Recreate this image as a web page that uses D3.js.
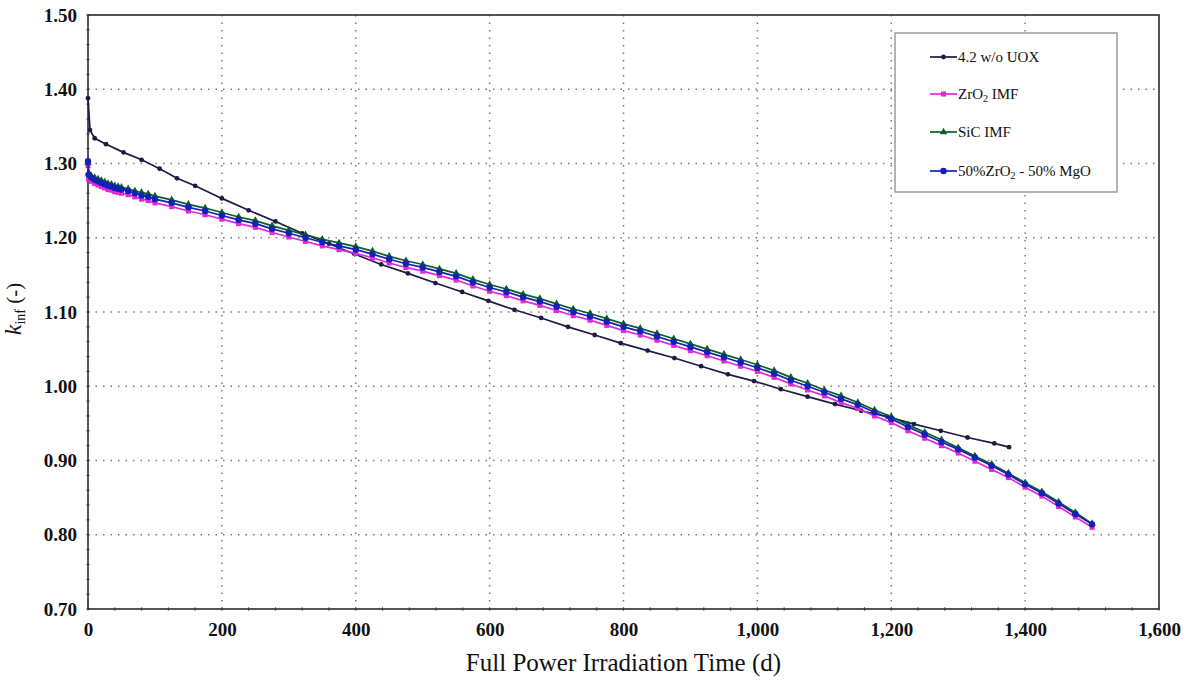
<!DOCTYPE html>
<html>
<head>
<meta charset="utf-8">
<script src="https://cdn.jsdelivr.net/npm/d3@7"></script>
<style>
  body { margin: 0; background: #fff; }
  text { font-family: "Liberation Serif", "Times New Roman", Times, serif; fill: #111; }
</style>
</head>
<body>
<script>
var svgW = 1191;
var svgH = 680;
var margin = { top: 15, right: 32, bottom: 71, left: 88 };
var chartWidth = svgW - margin.left - margin.right;
var chartHeight = svgH - margin.top - margin.bottom;

// 4.2 w/o UOX
var uoxDays = [0, 3, 10, 27, 53, 80, 107, 133, 160, 200, 240, 280, 320, 360,
  398, 438, 478, 519, 559, 598, 637, 677, 717, 757, 796, 836, 876, 916, 956, 995,
  1035, 1075, 1116, 1155, 1194, 1234, 1274, 1314, 1354, 1376];
var uoxK = [1.388, 1.345, 1.334, 1.326, 1.315, 1.305, 1.293, 1.280, 1.270, 1.253, 1.237, 1.222, 1.206, 1.192,
  1.178, 1.164, 1.152, 1.139, 1.127, 1.115, 1.103, 1.092, 1.080, 1.069, 1.058, 1.048, 1.038, 1.027, 1.016, 1.007,
  0.996, 0.986, 0.976, 0.967, 0.959, 0.949, 0.940, 0.931, 0.923, 0.918];

// IMF burnup steps
var imfDays = [0, 1, 5, 10, 15, 20, 25, 30, 35, 40, 45, 50, 60, 70, 80, 90, 100,
  125, 150, 175, 200, 225, 250, 275, 300, 325, 350, 375, 400, 425, 450, 475, 500,
  525, 550, 575, 600, 625, 650, 675, 700, 725, 750, 775, 800, 825, 850, 875, 900,
  925, 950, 975, 1000, 1025, 1050, 1075, 1100, 1125, 1150, 1175, 1200, 1225, 1250,
  1275, 1300, 1325, 1350, 1375, 1400, 1425, 1450, 1475, 1500];

var zro2K = [1.297, 1.279, 1.276, 1.273, 1.271, 1.269, 1.267, 1.265, 1.264, 1.262, 1.261, 1.260, 1.258, 1.255, 1.252, 1.250, 1.247,
  1.242, 1.236, 1.231, 1.225, 1.219, 1.214, 1.207, 1.201, 1.195, 1.189, 1.184, 1.179, 1.173, 1.166, 1.160, 1.155,
  1.149, 1.143, 1.135, 1.128, 1.122, 1.115, 1.109, 1.102, 1.095, 1.089, 1.082, 1.075, 1.069, 1.062, 1.055, 1.048,
  1.041, 1.034, 1.027, 1.020, 1.012, 1.003, 0.995, 0.987, 0.978, 0.970, 0.960, 0.951, 0.940, 0.930,
  0.920, 0.910, 0.899, 0.888, 0.877, 0.864, 0.852, 0.838, 0.824, 0.810];

var sicK = [1.301, 1.287, 1.283, 1.281, 1.279, 1.277, 1.275, 1.273, 1.272, 1.270, 1.269, 1.268, 1.266, 1.263, 1.261, 1.259, 1.256,
  1.251, 1.245, 1.240, 1.234, 1.228, 1.223, 1.216, 1.210, 1.204, 1.198, 1.193, 1.188, 1.182, 1.175, 1.169, 1.164,
  1.158, 1.152, 1.144, 1.137, 1.131, 1.124, 1.118, 1.111, 1.104, 1.098, 1.091, 1.084, 1.078, 1.071, 1.064, 1.057,
  1.050, 1.043, 1.036, 1.029, 1.021, 1.012, 1.004, 0.995, 0.987, 0.978, 0.968, 0.959, 0.948, 0.938,
  0.928, 0.917, 0.906, 0.895, 0.883, 0.870, 0.858, 0.844, 0.830, 0.815];

var mgoK = [1.303, 1.285, 1.281, 1.278, 1.276, 1.274, 1.272, 1.270, 1.269, 1.267, 1.266, 1.265, 1.263, 1.260, 1.257, 1.255, 1.252,
  1.247, 1.241, 1.236, 1.230, 1.224, 1.219, 1.212, 1.206, 1.200, 1.194, 1.189, 1.184, 1.178, 1.171, 1.165, 1.160,
  1.154, 1.148, 1.140, 1.133, 1.127, 1.120, 1.114, 1.107, 1.100, 1.094, 1.087, 1.080, 1.074, 1.067, 1.060, 1.053,
  1.046, 1.039, 1.032, 1.025, 1.017, 1.008, 1.000, 0.992, 0.983, 0.975, 0.965, 0.956, 0.945, 0.935,
  0.925, 0.915, 0.904, 0.893, 0.881, 0.868, 0.856, 0.842, 0.828, 0.814];

var xTicks = [0, 200, 400, 600, 800, 1000, 1200, 1400, 1600];
var yTicks = [0.70, 0.80, 0.90, 1.00, 1.10, 1.20, 1.30, 1.40, 1.50];

var series = [
  { name: "4.2 w/o UOX", days: uoxDays, k: uoxK, color: "#1b1b45", sym: d3.symbolCircle, size: 18 },
  { name: "ZrO2 IMF", days: imfDays, k: zro2K, color: "#e02ad8", sym: d3.symbolSquare, size: 26 },
  { name: "SiC IMF", days: imfDays, k: sicK, color: "#0b5e24", sym: d3.symbolTriangle, size: 24 },
  { name: "50%ZrO2 - 50% MgO", days: imfDays, k: mgoK, color: "#1420b8", sym: d3.symbolCircle, size: 32 }
];

var svg = d3.select("body")
  .append("svg")
  .attr("width", svgW)
  .attr("height", svgH)
  .append("g")
  .attr("transform", "translate(" + margin.left + "," + margin.top + ")");

var xScale = d3.scaleLinear().domain([0, 1600]).range([0, chartWidth]);
var yScale = d3.scaleLinear().domain([0.70, 1.50]).range([chartHeight, 0]);

// dotted grid
svg.append("g").selectAll("line")
  .data(xTicks.slice(1, -1))
  .enter().append("line")
  .attr("x1", function (d) { return xScale(d); })
  .attr("x2", function (d) { return xScale(d); })
  .attr("y1", 0).attr("y2", chartHeight)
  .attr("stroke", "#7a7a7a").attr("stroke-width", 1.5)
  .attr("stroke-dasharray", "1.5,6");

svg.append("g").selectAll("line")
  .data(yTicks.slice(1, -1))
  .enter().append("line")
  .attr("y1", function (d) { return yScale(d); })
  .attr("y2", function (d) { return yScale(d); })
  .attr("x1", 0).attr("x2", chartWidth)
  .attr("stroke", "#7a7a7a").attr("stroke-width", 1.5)
  .attr("stroke-dasharray", "1.5,6");

// axes
var xAxis = d3.axisBottom(xScale)
  .tickValues(xTicks)
  .tickSize(0)
  .tickPadding(14)
  .tickFormat(d3.format(",d"));
var yAxis = d3.axisLeft(yScale)
  .tickValues(yTicks)
  .tickSize(0)
  .tickPadding(11)
  .tickFormat(d3.format(".2f"));

var minorX = d3.range(0, 1601, 40);
var minorY = d3.range(0, 41).map(function (i) { return 0.70 + i * 0.02; });

svg.append("g").selectAll("line")
  .data(minorX)
  .enter().append("line")
  .attr("x1", function (d) { return xScale(d); })
  .attr("x2", function (d) { return xScale(d); })
  .attr("y1", chartHeight - 2).attr("y2", chartHeight + 2)
  .attr("stroke", "#777").attr("stroke-width", 1);
svg.append("g").selectAll("line")
  .data(minorY)
  .enter().append("line")
  .attr("y1", function (d) { return yScale(d); })
  .attr("y2", function (d) { return yScale(d); })
  .attr("x1", -2).attr("x2", 2)
  .attr("stroke", "#777").attr("stroke-width", 1);

var gx = svg.append("g")
  .attr("class", "xAxis")
  .attr("transform", "translate(0," + chartHeight + ")")
  .call(xAxis);
var gy = svg.append("g")
  .attr("class", "yAxis")
  .call(yAxis);
[gx, gy].forEach(function (g) {
  g.select(".domain").remove();
  g.selectAll("text")
    .style("font-family", "'Liberation Serif', 'Times New Roman', serif")
    .style("font-size", "19px")
    .style("font-weight", "bold")
    .attr("fill", "#111");
});

// plot frame
svg.append("rect")
  .attr("x", 0).attr("y", 0)
  .attr("width", chartWidth).attr("height", chartHeight)
  .attr("fill", "none")
  .attr("stroke", "#2a2a2a")
  .attr("stroke-width", 1.6);

// lines and markers
var line = d3.line()
  .x(function (d) { return xScale(d[0]); })
  .y(function (d) { return yScale(d[1]); });

series.forEach(function (s) {
  var pts = s.days.map(function (d, i) { return [d, s.k[i]]; });
  svg.append("path")
    .datum(pts)
    .attr("d", line)
    .attr("fill", "none")
    .attr("stroke", s.color)
    .attr("stroke-width", 1.7);
  svg.append("g").selectAll("path")
    .data(pts)
    .enter().append("path")
    .attr("transform", function (d) { return "translate(" + xScale(d[0]) + "," + yScale(d[1]) + ")"; })
    .attr("d", d3.symbol().type(s.sym).size(s.size))
    .attr("fill", s.color);
});

// legend
var legend = svg.append("g")
  .attr("transform", "translate(" + (895 - margin.left) + "," + (33 - margin.top) + ")");
legend.append("rect")
  .attr("width", 222).attr("height", 159)
  .attr("fill", "#fff")
  .attr("stroke", "#9a9a9a")
  .attr("stroke-width", 1.5);

var rowY = [24, 61, 99, 138];
series.forEach(function (s, i) {
  var row = legend.append("g").attr("transform", "translate(0," + rowY[i] + ")");
  row.append("line")
    .attr("x1", 35).attr("x2", 62)
    .attr("stroke", s.color).attr("stroke-width", 1.7);
  row.append("path")
    .attr("transform", "translate(48.5,0)")
    .attr("d", d3.symbol().type(s.sym).size(s.size))
    .attr("fill", s.color);
  var t = row.append("text")
    .attr("x", 63).attr("y", 5)
    .style("font-size", "15px");
  if (s.name.indexOf("ZrO2") >= 0) {
    var parts = s.name.split("ZrO2");
    t.append("tspan").text(parts[0] + "ZrO");
    t.append("tspan").attr("dy", 3).style("font-size", "10px").text("2");
    t.append("tspan").attr("dy", -3).text(parts[1]);
  } else {
    t.text(s.name);
  }
});

// axis titles
svg.append("text")
  .attr("x", chartWidth / 2)
  .attr("y", chartHeight + 62)
  .attr("text-anchor", "middle")
  .style("font-size", "25px")
  .text("Full Power Irradiation Time (d)");

var yt = svg.append("text")
  .attr("transform", "translate(" + (-67) + "," + (chartHeight / 2 - 3) + ") rotate(-90)")
  .attr("text-anchor", "middle")
  .style("font-size", "21px");
yt.append("tspan").style("font-style", "italic").style("font-size", "24px").text("k");
yt.append("tspan").attr("dy", 4).style("font-size", "14px").text("inf");
yt.append("tspan").attr("dy", -4).text(" (-)");
</script>
</body>
</html>
